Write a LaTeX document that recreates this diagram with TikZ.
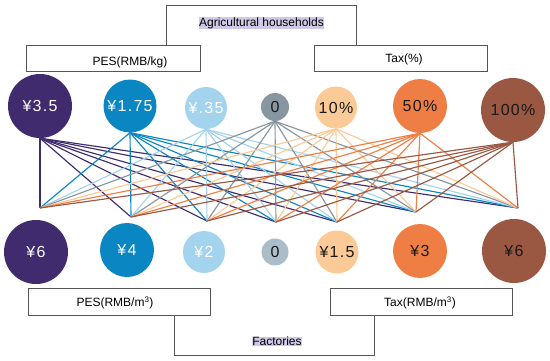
\documentclass[tikz,border=0pt]{standalone}
\usepackage{fontspec}
\setmainfont{Liberation Sans}
\usepackage{xcolor}
\usetikzlibrary{positioning}
\definecolor{plum}{HTML}{3F2B6E}
\definecolor{ocean}{HTML}{0A86C3}
\definecolor{sky}{HTML}{A4D3EE}
\definecolor{slate}{HTML}{8796A0}
\definecolor{mist}{HTML}{ABBDC8}
\definecolor{peach}{HTML}{FCCA96}
\definecolor{tangerine}{HTML}{EF7E45}
\definecolor{rust}{HTML}{9A5843}
\definecolor{lavender}{HTML}{CFC8E6}
\definecolor{frame}{HTML}{555555}

\begin{document}
\begin{tikzpicture}[x=1pt,y=-1pt,
  cv/.style={circle,inner sep=0pt,text=black!90,font=\fontsize{16}{18}\selectfont\addfontfeature{LetterSpace=8}},
  ln/.style={line width=1.15pt},
  bx/.style={draw=frame,line width=0.8pt,inner sep=0pt,anchor=north west},
  lab/.style={inner sep=0.5pt,font=\fontsize{12}{14}\selectfont},
  hl/.style={lab,fill=lavender}]
\useasboundingbox (0,0) rectangle (550,360);

% upper boxes
\draw[frame,line width=0.8pt] (166,45) -- (166,5) -- (356,5) -- (356,45);
\node[hl] (agri) at (261.5,23) {Agricultural households};
\node[bx,minimum width=174pt,minimum height=26pt] (pesup) at (26,45) {};
\node[lab] (pesuplab) at (130,62) {PES(RMB/kg)};
\node[bx,minimum width=173pt,minimum height=26pt] (taxup) at (314,45) {};
\node[lab] (taxuplab) at (404,59) {Tax(\%)};

% upper circles
\node[cv,fill=plum,text=white,minimum size=64pt] (t1) at (40,106) {¥3.5};
\node[cv,fill=ocean,text=white,minimum size=53pt] (t2) at (130,106) {¥1.75};
\node[cv,fill=sky,text=white,minimum size=42pt] (t3) at (206,108) {¥.35};
\node[cv,fill=slate,minimum size=28pt] (t4) at (275,107) {0};
\node[cv,fill=peach,minimum size=42pt] (t5) at (336,107.5) {10\%};
\node[cv,fill=tangerine,minimum size=54pt] (t6) at (420,106) {50\%};
\node[cv,fill=rust,minimum size=64pt] (t7) at (513,110) {100\%};

% meeting points
\coordinate (p1) at (40,208);
\coordinate (p2) at (131,217);
\coordinate (p3) at (207,221);
\coordinate (p4) at (276,222);
\coordinate (p5) at (337,222);
\coordinate (p6) at (416,212);
\coordinate (p7) at (518,208);

\foreach \i/\c in {1/plum,2/ocean,3/sky,4/slate,5/peach,6/tangerine,7/rust}
  \foreach \j in {1,...,7}
    \draw[ln,\c] (t\i.south) -- (p\j);

% lower circles
\node[cv,fill=plum,text=white,minimum size=64pt] (b1) at (36,252) {¥6};
\node[cv,fill=ocean,text=white,minimum size=54pt] (b2) at (127,250) {¥4};
\node[cv,fill=sky,text=white,minimum size=42pt] (b3) at (204,252) {¥2};
\node[cv,fill=mist,minimum size=27pt] (b4) at (275,252) {0};
\node[cv,fill=peach,minimum size=43pt] (b5) at (337,252) {¥1.5};
\node[cv,fill=tangerine,minimum size=54pt] (b6) at (420,251) {¥3};
\node[cv,fill=rust,minimum size=64pt] (b7) at (514,251) {¥6};

% lower boxes
\node[bx,minimum width=182pt,minimum height=27pt] (pesdown) at (28,288) {};
\node[lab] (pesdownlab) at (115,303) {PES(RMB/m\textsuperscript{3})};
\node[bx,minimum width=182pt,minimum height=27pt] (taxdown) at (330,288) {};
\node[lab] (taxdownlab) at (420,303) {Tax(RMB/m\textsuperscript{3})};
\draw[frame,line width=0.8pt] (174,315) -- (174,355) -- (374,355) -- (374,315);
\node[hl] (fact) at (277,341.5) {Factories};
\end{tikzpicture}
\end{document}
